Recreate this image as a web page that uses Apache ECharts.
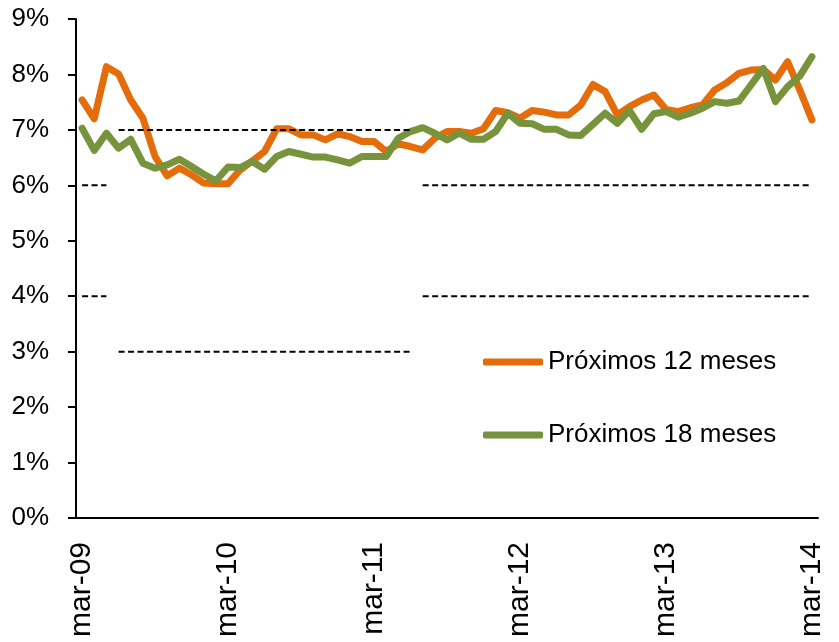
<!DOCTYPE html>
<html>
<head>
<meta charset="utf-8">
<script src="https://cdn.jsdelivr.net/npm/echarts@6/dist/echarts.min.js"></script>
<style>
  html, body { margin: 0; padding: 0; background: #fff; }
  #content { width: 839px; height: 642px; }
</style>
</head>
<body>
<div id="content"></div>
<script>
// meses de mar-09 a mar-14
var monthNames = ["ene", "feb", "mar", "abr", "may", "jun", "jul", "ago", "sep", "oct", "nov", "dic"];
var months = [];
for (var k = 0; k < 61; k++) {
  var m = (2 + k) % 12;
  var yy = 9 + Math.floor((2 + k) / 12);
  months.push(monthNames[m] + "-" + (yy < 10 ? "0" + yy : yy));
}

var next12 = [
  7.54, 7.20, 8.14, 8.01, 7.54, 7.21, 6.52, 6.17, 6.31, 6.19,
  6.04, 6.03, 6.03, 6.28, 6.44, 6.61, 7.02, 7.02, 6.91, 6.91,
  6.82, 6.93, 6.88, 6.79, 6.79, 6.61, 6.75, 6.70, 6.64, 6.85,
  6.97, 6.97, 6.94, 7.02, 7.35, 7.31, 7.21, 7.35, 7.32, 7.27,
  7.27, 7.45, 7.82, 7.69, 7.27, 7.42, 7.54, 7.63, 7.37, 7.33,
  7.40, 7.45, 7.72, 7.85, 8.02, 8.08, 8.09, 7.90, 8.23, 7.72,
  7.18
];
var next18 = [
  7.03, 6.63, 6.94, 6.67, 6.83, 6.40, 6.31, 6.37, 6.47, 6.34,
  6.20, 6.08, 6.33, 6.32, 6.43, 6.29, 6.52, 6.61, 6.56, 6.51,
  6.51, 6.46, 6.40, 6.52, 6.52, 6.52, 6.85, 6.97, 7.04, 6.94,
  6.82, 6.94, 6.83, 6.83, 6.97, 7.30, 7.12, 7.11, 7.01, 7.01,
  6.91, 6.90, 7.10, 7.30, 7.12, 7.35, 7.01, 7.29, 7.33, 7.23,
  7.30, 7.39, 7.51, 7.48, 7.52, 7.81, 8.11, 7.51, 7.78, 7.97,
  8.32
];

// rango meta (indices de mes)
var bandStart = [0, 3, 28];
var bandEnd = [2, 27, 60];
var bandLow = [4, 3, 4];
var bandHigh = [6, 7, 6];

var dashStyle = { color: "#000", width: 2, type: [6, 3.5] };

var series = [
  {
    name: "Próximos 12 meses",
    type: "line",
    data: next12,
    showSymbol: false,
    symbol: "none",
    lineStyle: { color: "#E46C0A", width: 7, cap: "round", join: "round" },
    itemStyle: { color: "#E46C0A" },
    z: 2,
  },
  {
    name: "Próximos 18 meses",
    type: "line",
    data: next18,
    showSymbol: false,
    symbol: "none",
    lineStyle: { color: "#77933C", width: 7, cap: "round", join: "round" },
    itemStyle: { color: "#77933C" },
    z: 3,
  },
];

// un tramo por cada periodo del rango
for (var b = 0; b < bandStart.length; b++) {
  [bandLow[b], bandHigh[b]].forEach(function (lvl) {
    var seg = months.map(function () { return null; });
    for (var i = bandStart[b]; i <= bandEnd[b]; i++) seg[i] = lvl;
    series.push({
      name: "rango",
      type: "line",
      data: seg,
      symbol: "none",
      lineStyle: dashStyle,
      silent: true,
      z: 4,
    });
  });
}

var labelFont = "'Liberation Sans', Arial, sans-serif";

var myChart = echarts.init(document.getElementById("content"));
var option = {
  animation: false,
  grid: { left: 76, right: 21, top: 19, bottom: 124 },
  legend: {
    orient: "vertical",
    left: 478,
    top: 342,
    icon: "roundRect",
    itemWidth: 60,
    itemHeight: 7,
    itemGap: 43,
    data: ["Próximos 12 meses", "Próximos 18 meses"],
    textStyle: { fontFamily: labelFont, fontSize: 26, lineHeight: 30, color: "#000" },
  },
  xAxis: {
    type: "category",
    data: months,
    boundaryGap: true,
    axisLine: { lineStyle: { color: "#000", width: 2 } },
    axisTick: { interval: 11, length: 8, lineStyle: { color: "#000", width: 2 } },
    axisLabel: {
      interval: 11,
      rotate: 90,
      margin: 24,
      color: "#000",
      fontSize: 30,
      fontFamily: labelFont,
      padding: [0, 0, 0, 0],
    },
  },
  yAxis: {
    type: "value",
    min: 0,
    max: 9,
    interval: 1,
    splitLine: { show: false },
    axisLine: { show: true, lineStyle: { color: "#000", width: 2 } },
    axisTick: { show: true, length: 8, lineStyle: { color: "#000", width: 2 } },
    axisLabel: {
      formatter: "{value}%",
      margin: 27,
      color: "#000",
      fontSize: 26,
      fontFamily: labelFont,
    },
  },
  series: series,
};
myChart.setOption(option);
</script>
</body>
</html>
